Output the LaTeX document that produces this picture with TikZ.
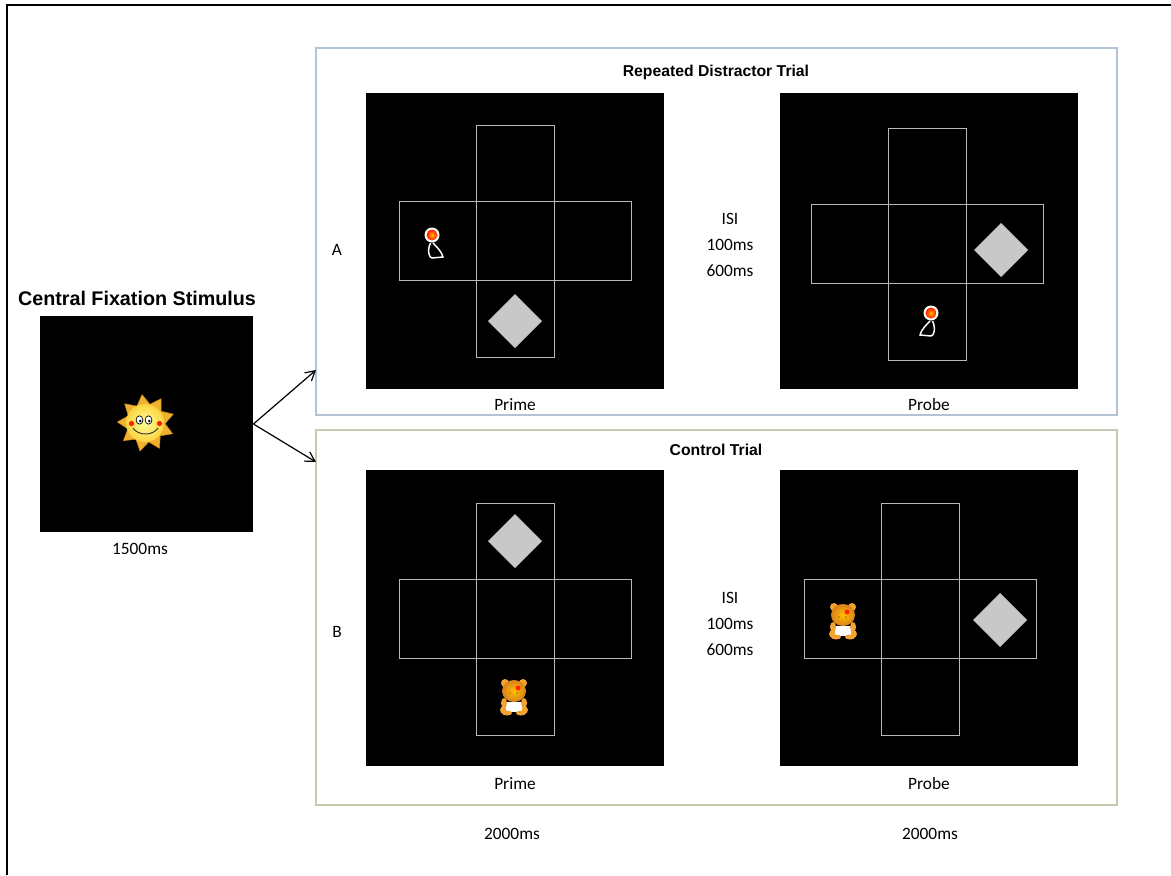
\documentclass[tikz,border=0pt]{standalone}
\usepackage{fontspec}
\setmainfont{Carlito}
\newfontfamily\headfont{Liberation Sans}
\usetikzlibrary{arrows.meta,shapes.geometric}

\definecolor{cellline}{HTML}{B8B8B8}
\definecolor{boxA}{HTML}{B3C3D3}
\definecolor{boxB}{HTML}{C9C9B2}
\definecolor{targetgray}{HTML}{C8C8C8}
\definecolor{rayorange}{HTML}{F0B030}
\definecolor{raydark}{HTML}{C98A12}
\definecolor{faceyellow}{HTML}{FAE34A}
\definecolor{bearorange}{HTML}{F2A332}
\definecolor{beardark}{HTML}{D9801C}

% cross-shaped grid of five cells around a centre point
\newcommand\crossgrid[2]{%
  \draw[cell] (#1-39,#2-116) rectangle (#1+39,#2+116);
  \draw[cell] (#1-116,#2-39.5) rectangle (#1+116,#2+39.5);}
% grey diamond target
\newcommand\targetdiamond[2]{%
  \fill[targetgray] (#1,#2-27) -- (#1+27,#2) -- (#1,#2+27) -- (#1-27,#2) -- cycle;}
% rattle: orange ball with a white loop handle, #3 = 1 or -1 for mirroring
\newcommand\rattle[3]{%
  \begin{scope}[shift={(#1,#2)},xscale=#3]
    \draw[white,line width=1.1pt] (-1.5,8) .. controls (-5,15) and (-3,23) .. (0,23)
      -- (11,22) .. controls (10,17) and (4,11) .. (1,8);
    \fill[white] (0,0) circle (7.5);
    \shade[inner color=orange!60!yellow,outer color=red!80!orange] (0,0) circle (5.5);
  \end{scope}}
% small orange toy bear with a white body
\newcommand\toybear[2]{%
  \begin{scope}[shift={(#1,#2)}]
    \fill[bearorange] (-10,14) ellipse (4 and 4);
    \fill[bearorange] (10,14) ellipse (4 and 4);
    \fill[white] (-8,6) rectangle (8,16);
    \fill[bearorange] (-10,7) ellipse (3 and 5);
    \fill[bearorange] (10,7) ellipse (3 and 5);
    \fill[bearorange] (-7,17) ellipse (5 and 2.5);
    \fill[bearorange] (7,17) ellipse (5 and 2.5);
    \fill[bearorange] (-9,-13) circle (4);
    \fill[bearorange] (9,-13) circle (4);
    \shade[inner color=orange!50!yellow,outer color=beardark] (0,-5) ellipse (12 and 11);
    \fill[red!70!orange] (4,-8) circle (2.5);
    \fill[beardark!80!black] (-4,-3) circle (0.9);
    \fill[beardark!80!black] (3,-3) circle (0.9);
  \end{scope}}

\begin{document}
\begin{tikzpicture}[x=0.75pt,y=-0.75pt,
  screen/.style={fill=black,draw=none,inner sep=0pt,minimum width=223.5pt,minimum height=222pt},
  cell/.style={draw=cellline,line width=0.7pt},
  trialbox/.style={line width=1.1pt},
  head/.style={font=\headfont\bfseries\fontsize{11.8}{13}\selectfont},
  bigHead/.style={font=\headfont\bfseries\fontsize{14.8}{16}\selectfont},
  lab/.style={font=\fontsize{13}{16}\selectfont},
  isi/.style={font=\fontsize{13}{19.5}\selectfont,align=center},
  link/.style={line width=0.9pt,-{Straight Barb[length=7pt,width=8pt]}}]
\useasboundingbox (0,0) rectangle (1171,875);

% outer frame (top and left edges)
\draw[line width=1.6pt] (7,875) -- (7,5) -- (1171,5);

% trial panels
\draw[trialbox,draw=boxA] (316,48) rectangle (1117,415);
\draw[trialbox,draw=boxB] (316,430) rectangle (1117,805);
\coordinate (toA) at (316,370);
\coordinate (toB) at (316,462);

\node[head] (titleA) at (716,72) {Repeated Distractor Trial};
\node[head] (titleB) at (716,450) {Control Trial};

% fixation screen with the sun
\node[bigHead] (fixtitle) at (137,298) {Central Fixation Stimulus};
\node[fill=black,inner sep=0pt,minimum width=160pt,minimum height=162pt] (fix) at (146.5,424) {};
\node[star,star points=9,star point ratio=1.5,fill=rayorange,draw=raydark,line width=0.4pt,
      minimum size=43pt,inner sep=0pt,rotate=8] (rays) at (146,423) {};
\shade[inner color=yellow!40!white,outer color=faceyellow!85!orange] (145,423) circle (19);
\draw[black,line width=0.5pt,fill=white] (139.5,420) ellipse (3.4 and 4.2);
\draw[black,line width=0.5pt,fill=white] (148.5,420) ellipse (3.4 and 4.2);
\fill[black] (140.3,421) circle (1.4);
\fill[black] (149.3,421) circle (1.4);
\fill[red!75!orange] (131.5,423.5) circle (2.6);
\fill[red!75!orange] (159.5,423.5) circle (2.6);
\draw[black!80,line width=0.7pt] (133,428) .. controls (138,436) and (153,436) .. (158,428);
\node[lab] (fixtime) at (140,549) {1500ms};

\draw[link] (fix.east) -- (toA);
\draw[link] (fix.east) -- (toB);

% repeated distractor trial
\node[lab] (labA) at (337,250) {A};
\node[screen] (primeA) at (515,241) {};
\crossgrid{515}{241}
\targetdiamond{515}{321}
\rattle{432}{235}{1}
\node[lab] (primeAlab) at (515,405) {Prime};

\node[isi] (isiA) at (730,245) {ISI\\100ms\\600ms};

\node[screen] (probeA) at (929,241) {};
\crossgrid{927}{244}
\targetdiamond{1001}{250}
\rattle{931}{313}{-1}
\node[lab] (probeAlab) at (929,405) {Probe};

% control trial
\node[lab] (labB) at (337,632) {B};
\node[screen] (primeB) at (515,618) {};
\crossgrid{515}{619}
\targetdiamond{515}{541}
\toybear{514}{696}
\node[lab] (primeBlab) at (515,784) {Prime};

\node[isi] (isiB) at (730,624) {ISI\\100ms\\600ms};

\node[screen] (probeB) at (929,618) {};
\crossgrid{920}{619}
\targetdiamond{1000}{620}
\toybear{843}{620}
\node[lab] (probeBlab) at (929,784) {Probe};

% durations
\node[lab] (primetime) at (512,834) {2000ms};
\node[lab] (probetime) at (930,834) {2000ms};
\end{tikzpicture}
\end{document}
